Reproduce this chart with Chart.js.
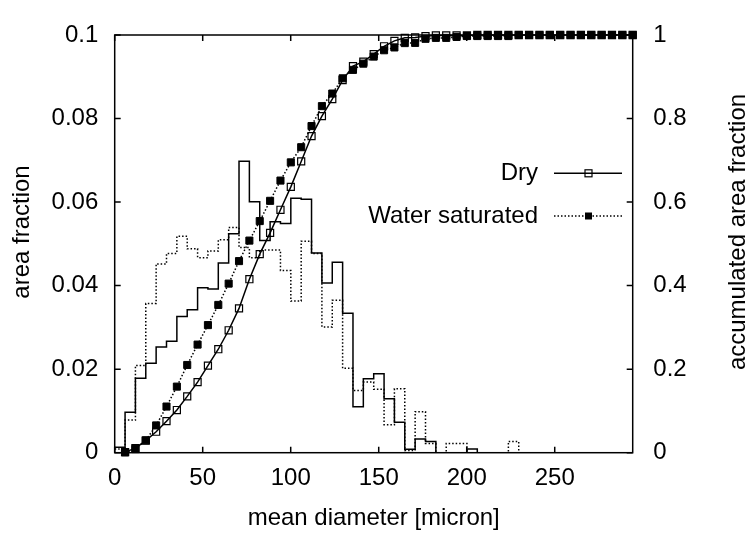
<!DOCTYPE html>
<html>
<head>
<meta charset="utf-8">
<script src="https://cdn.jsdelivr.net/npm/chart.js@4/dist/chart.umd.min.js"></script>
<style>
html, body { margin: 0; padding: 0; background: #fff; }
#wrap { width: 751px; height: 536px; }
</style>
</head>
<body>
<div id="wrap"><canvas id="sizeChart" width="751" height="536"></canvas></div>
<script>
// diameter class edges [micron]
const binEdges = [0, 5.89, 11.77, 17.66, 23.54, 29.43, 35.32, 41.20, 47.09, 52.97,
    58.86, 64.75, 70.63, 76.52, 82.40, 88.29, 94.18, 100.06, 105.95, 111.83,
    117.72, 123.61, 129.49, 135.38, 141.26, 147.15, 153.04, 158.92, 164.81, 170.69,
    176.58, 182.47, 188.35, 194.24, 200.12, 206.01, 211.90, 217.78, 223.67, 229.55,
    235.44, 241.33, 247.21, 253.10, 258.98, 264.87, 270.76, 276.64, 282.53, 288.41,
    294.30];

// area fraction per class
const dryHist = [0.0013, 0.0097, 0.0178, 0.0214, 0.0253, 0.0267, 0.0326, 0.0342, 0.0395, 0.0392,
    0.0454, 0.0524, 0.0698, 0.0601, 0.0508, 0.0553, 0.0549, 0.0609, 0.0607, 0.0478,
    0.0406, 0.0456, 0.0334, 0.0110, 0.0177, 0.0189, 0.0129, 0.0073, 0.0008, 0.0033,
    0.0027, 0, 0, 0, 0.0009, 0, 0, 0, 0, 0,
    0, 0, 0, 0, 0, 0, 0, 0, 0, 0];
const wetHist = [0.0009, 0.0078, 0.0209, 0.0357, 0.0452, 0.0477, 0.0518, 0.0488, 0.0467, 0.0483,
    0.0510, 0.0539, 0.0491, 0.0467, 0.0485, 0.0485, 0.0436, 0.0363, 0.0506, 0.0477,
    0.0301, 0.0365, 0.0202, 0.0149, 0.0169, 0.0152, 0.0067, 0.0153, 0.0005, 0.0098,
    0.0022, 0, 0.0022, 0.0022, 0, 0, 0, 0, 0.0027, 0,
    0, 0, 0, 0, 0, 0, 0, 0, 0, 0];

// accumulated area fraction at the upper edge of each class
const dryCum = [0.0013, 0.0110, 0.0288, 0.0502, 0.0755, 0.1022, 0.1348, 0.1690, 0.2085, 0.2477,
    0.2931, 0.3455, 0.4153, 0.4754, 0.5262, 0.5815, 0.6364, 0.6973, 0.7580, 0.8058,
    0.8464, 0.8920, 0.9254, 0.9364, 0.9541, 0.9730, 0.9859, 0.9932, 0.9940, 0.9973,
    0.9991, 0.9991, 0.9991, 0.9991, 1, 1, 1, 1, 1, 1,
    1, 1, 1, 1, 1, 1, 1, 1, 1, 1];
const wetCum = [0.0009, 0.0087, 0.0296, 0.0653, 0.1105, 0.1582, 0.2100, 0.2588, 0.3055, 0.3538,
    0.4048, 0.4587, 0.5078, 0.5545, 0.6030, 0.6515, 0.6951, 0.7314, 0.7820, 0.8297,
    0.8598, 0.8963, 0.9165, 0.9314, 0.9483, 0.9635, 0.9702, 0.9806, 0.9811, 0.9909,
    0.9931, 0.9931, 0.9953, 0.9975, 0.9975, 0.9975, 0.9975, 0.9975, 1, 1,
    1, 1, 1, 1, 1, 1, 1, 1, 1, 1];

const xTicks = [0, 50, 100, 150, 200, 250];
const yTicks = [0, 0.02, 0.04, 0.06, 0.08, 0.1];
const y2Ticks = [0, 0.2, 0.4, 0.6, 0.8, 1];
const seriesNames = ['Dry', 'Water saturated'];
const xTitle = 'mean diameter [micron]';
const yTitle = 'area fraction';
const y2Title = 'accumulated area fraction';

const FONT = "'Liberation Sans', Arial, Helvetica, sans-serif";
Chart.defaults.font.family = FONT;
Chart.defaults.font.size = 24;
Chart.defaults.color = '#000';

function steps(hist) {
    return binEdges.map((x, i) => ({ x: x, y: hist[Math.min(i, hist.length - 1)] }));
}
function cumPoints(cum) {
    return binEdges.slice(1).map((x, i) => ({ x: x, y: cum[i] }));
}
function fixTicks(list) {
    return function(scale) { scale.ticks = list.map(v => ({ value: v })); };
}
const fmt = v => String(+Number(v).toFixed(4));

// frame, inward ticks, axis titles and key drawn gnuplot-like
const gnuplotLook = {
    id: 'gnuplotLook',
    afterDraw(chart) {
        const { ctx, chartArea: a, scales } = chart;
        const tl = 6;
        ctx.save();
        ctx.strokeStyle = '#000';
        ctx.lineWidth = 1.5;
        ctx.setLineDash([]);
        ctx.strokeRect(a.left, a.top, a.right - a.left, a.bottom - a.top);

        ctx.beginPath();
        scales.x.ticks.forEach(t => {
            const px = scales.x.getPixelForValue(t.value);
            ctx.moveTo(px, a.bottom); ctx.lineTo(px, a.bottom - tl);
            ctx.moveTo(px, a.top); ctx.lineTo(px, a.top + tl);
        });
        scales.y.ticks.forEach(t => {
            const py = scales.y.getPixelForValue(t.value);
            ctx.moveTo(a.left, py); ctx.lineTo(a.left + tl, py);
        });
        scales.y2.ticks.forEach(t => {
            const py = scales.y2.getPixelForValue(t.value);
            ctx.moveTo(a.right, py); ctx.lineTo(a.right - tl, py);
        });
        ctx.stroke();

        // axis titles
        ctx.fillStyle = '#000';
        ctx.font = '24px ' + FONT;
        ctx.textAlign = 'center';
        ctx.textBaseline = 'middle';
        ctx.fillText(xTitle, (a.left + a.right) / 2, 518);
        ctx.save();
        ctx.translate(22.5, 232);
        ctx.rotate(-Math.PI / 2);
        ctx.fillText(yTitle, 0, 0);
        ctx.restore();
        ctx.save();
        ctx.translate(738, 232);
        ctx.rotate(-Math.PI / 2);
        ctx.fillText(y2Title, 0, 0);
        ctx.restore();

        // key
        const keyRows = [
            { y: 173.3, dash: [], filled: false },
            { y: 216, dash: [1.5, 2], filled: true }
        ];
        keyRows.forEach((row, i) => {
            ctx.textAlign = 'right';
            ctx.fillText(seriesNames[i], 538, row.y);
            ctx.beginPath();
            ctx.setLineDash(row.dash);
            ctx.moveTo(554, row.y);
            ctx.lineTo(622, row.y);
            ctx.stroke();
            ctx.setLineDash([]);
            if (row.filled) {
                ctx.fillRect(588.5 - 3.5, row.y - 3.5, 7, 7);
            } else {
                ctx.lineWidth = 1.2;
                ctx.strokeRect(588.5 - 3.5, row.y - 3.5, 7, 7);
                ctx.lineWidth = 1.5;
            }
        });
        ctx.restore();
    }
};

const chart = new Chart(document.getElementById('sizeChart'), {
    type: 'line',
    data: {
        datasets: [
            {
                label: seriesNames[0] + ' cumulative',
                data: cumPoints(dryCum),
                yAxisID: 'y2',
                borderColor: '#000',
                borderWidth: 1.5,
                pointStyle: 'rect',
                pointRadius: 5,
                pointBorderWidth: 1.2,
                pointBorderColor: '#000',
                pointBackgroundColor: 'rgba(0,0,0,0)',
                clip: false
            },
            {
                label: seriesNames[1] + ' cumulative',
                data: cumPoints(wetCum),
                yAxisID: 'y2',
                borderColor: '#000',
                borderWidth: 1.5,
                borderDash: [1.5, 2],
                pointStyle: 'rect',
                pointRadius: 5,
                pointBorderWidth: 1,
                pointBorderColor: '#000',
                pointBackgroundColor: '#000',
                clip: false
            },
            {
                label: seriesNames[0],
                data: steps(dryHist),
                yAxisID: 'y',
                stepped: 'before',
                borderColor: '#000',
                borderWidth: 1.5,
                pointRadius: 0
            },
            {
                label: seriesNames[1],
                data: steps(wetHist),
                yAxisID: 'y',
                stepped: 'before',
                borderColor: '#000',
                borderWidth: 1.5,
                borderDash: [1.5, 2],
                pointRadius: 0
            }
        ]
    },
    options: {
        responsive: false,
        animation: false,
        devicePixelRatio: 1,
        layout: { padding: { top: 22.7, left: 0, right: 0, bottom: 0 } },
        plugins: {
            legend: { display: false },
            tooltip: { enabled: false }
        },
        elements: { line: { tension: 0, fill: false } },
        scales: {
            x: {
                type: 'linear',
                min: 0,
                max: 294.3,
                grid: { display: false, drawTicks: false },
                border: { display: false },
                afterBuildTicks: fixTicks(xTicks),
                afterFit(scale) { scale.height = 83.3; },
                ticks: { padding: 11, callback: fmt, maxRotation: 0, autoSkip: false }
            },
            y: {
                position: 'left',
                min: 0,
                max: 0.1,
                grid: { display: false, drawTicks: false },
                border: { display: false },
                afterBuildTicks: fixTicks(yTicks),
                afterFit(scale) { scale.width = 114.7; },
                ticks: { padding: 16.4, callback: fmt, autoSkip: false }
            },
            y2: {
                position: 'right',
                min: 0,
                max: 1,
                grid: { display: false, drawTicks: false },
                border: { display: false },
                afterBuildTicks: fixTicks(y2Ticks),
                afterFit(scale) { scale.width = 118.3; },
                ticks: { padding: 20.6, callback: fmt, autoSkip: false }
            }
        }
    },
    plugins: [gnuplotLook]
});
</script>
</body>
</html>
